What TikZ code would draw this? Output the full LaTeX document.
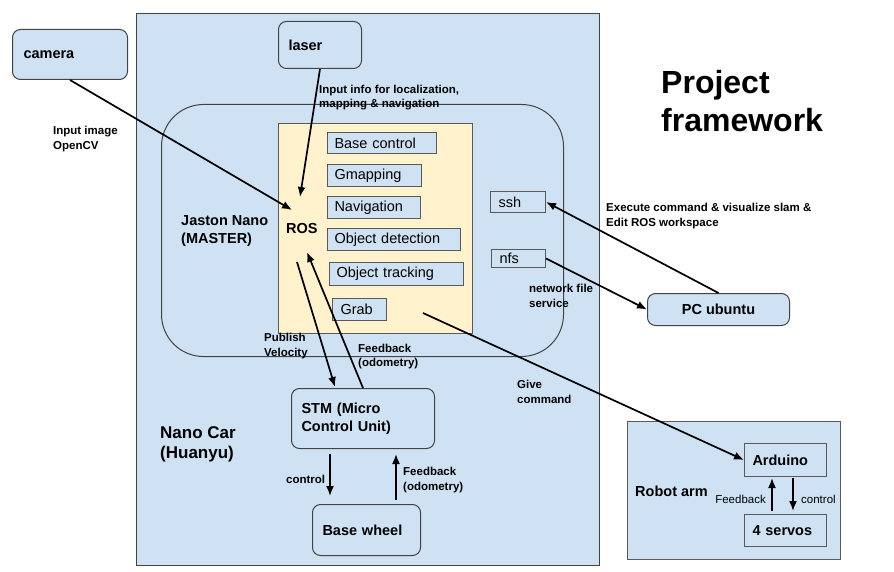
\documentclass[tikz,border=0pt]{standalone}
\usepackage{fontspec}
\setmainfont{Liberation Sans}
\usetikzlibrary{arrows.meta}
\definecolor{lb}{HTML}{CFE2F3}
\definecolor{ly}{HTML}{FFF2CC}
\definecolor{bgray}{HTML}{595959}
\definecolor{dgray}{HTML}{434343}
\begin{document}
\begin{tikzpicture}[x=1pt,y=-1pt,
  rbox/.style={draw=dgray, fill=lb, rounded corners=8pt, line width=1pt, inner ysep=0pt, anchor=north west, align=left, font=\fontsize{14.5}{18}\selectfont\bfseries},
  sbox/.style={draw=bgray, fill=lb, line width=1pt, inner ysep=0pt, anchor=north west, align=left, font=\fontsize{14.5}{18}\selectfont},
  lbl/.style={inner sep=0pt, anchor=west, align=left, font=\fontsize{11.5}{14.5}\selectfont\bfseries},
  big/.style={inner sep=0pt, anchor=west, align=left, font=\fontsize{14.5}{18}\selectfont\bfseries},
  arr/.style={line width=1.7pt, -{Latex[length=10pt,width=8pt]}}
]
\useasboundingbox (0,0) rectangle (894,572);
% Nano car
\node[draw=dgray, fill=lb, line width=1pt, anchor=north west, minimum width=463pt, minimum height=552pt, inner sep=0pt] (nanocar) at (136,13) {};
% camera
\node[rbox, minimum height=50pt, inner xsep=11pt, text width=93pt] (camera) at (12,29) {camera};
% laser
\node[rbox, minimum height=47pt, inner xsep=10pt, text width=63pt] (laser) at (278,21) {laser};
% Jaston Nano
\node[draw=dgray, line width=1pt, rounded corners=42pt, anchor=north west, minimum width=402pt, minimum height=252pt, inner sep=0pt] (jaston) at (161,104) {};
% ROS area
\node[draw=bgray, fill=ly, line width=1pt, anchor=north west, minimum width=194pt, minimum height=210pt, inner sep=0pt] (ros) at (278,123) {};
\node[sbox, minimum height=21pt, inner xsep=7pt, text width=95pt] (basecontrol) at (327,132) {Base control};
\node[sbox, minimum height=22pt, inner xsep=7pt, text width=80pt] (gmapping) at (327,164) {Gmapping};
\node[sbox, minimum height=22pt, inner xsep=7pt, text width=79pt] (navigation) at (327,196) {Navigation};
\node[sbox, minimum height=22pt, inner xsep=7pt, text width=119pt] (objdet) at (327,228) {Object detection};
\node[sbox, minimum height=23pt, inner xsep=7pt, text width=120pt] (objtrack) at (329,262) {Object tracking};
\node[sbox, minimum height=22pt, inner xsep=8pt, text width=38pt] (grab) at (332,298) {Grab};
\node[big] (rosT) at (286,229) {ROS};
\node[big] (jastonT) at (181,231) {Jaston Nano\\(MASTER)};
% ssh nfs
\node[sbox, minimum height=21pt, inner xsep=8pt, text width=39pt] (ssh) at (490,191) {ssh};
\node[sbox, minimum height=18pt, inner xsep=8pt, text width=38pt] (nfs) at (491,249) {nfs};
% PC
\node[rbox, minimum height=32pt, minimum width=142pt, align=center] (pc) at (647,293) {PC ubuntu};
% title
\node[inner sep=0pt, anchor=west, align=left, font=\fontsize{32}{38}\selectfont\bfseries] (title) at (661,101) {Project\\framework};
% STM
\node[rbox, minimum height=60pt, inner xsep=10pt, text width=123pt] (stm) at (291,388) {STM (Micro\\Control Unit)};
% Base wheel
\node[rbox, minimum height=51pt, inner xsep=10pt, text width=88pt] (wheel) at (312,504) {Base wheel};
\node[inner sep=0pt, anchor=west, align=left, font=\fontsize{17}{20}\selectfont\bfseries] (nanoT) at (160,444) {Nano Car\\(Huanyu)};
% Robot arm
\node[draw=bgray, fill=lb, line width=1pt, anchor=north west, minimum width=213pt, minimum height=138pt, inner sep=0pt] (robotarm) at (627,421) {};
\node[big] (robotT) at (635,491) {Robot arm};
\node[sbox, font=\fontsize{14.5}{18}\selectfont\bfseries, minimum height=33pt, inner xsep=8pt, text width=66pt] (arduino) at (744,443) {Arduino};
\node[sbox, font=\fontsize{14.5}{18}\selectfont\bfseries, minimum height=32pt, inner xsep=8pt, text width=66pt] (servos) at (744,514) {4 servos};
% labels
\node[lbl] (l1) at (319,97.5) {Input info for localization,\\mapping \& navigation};
\node[lbl] (l2) at (53,139) {Input image\\OpenCV};
\node[lbl] (l3) at (606,216) {Execute command \& visualize slam \&\\Edit ROS workspace};
\node[lbl] (l4) at (529,296) {network file\\service};
\node[lbl] (l5) at (264,346) {Publish\\Velocity};
\node[lbl] (l6) at (358,356.5) {Feedback\\(odometry)};
\node[lbl] (l7) at (517,392) {Give\\command};
\node[lbl] (l8) at (286,479) {control};
\node[lbl] (l9) at (403,480) {Feedback\\(odometry)};
\node[lbl, anchor=east, font=\fontsize{11.5}{14}\selectfont] (l10) at (766,499) {Feedback};
\node[lbl, font=\fontsize{11.5}{14}\selectfont] (l11) at (801,499) {control};
% coordinates
\coordinate (camEnd) at (292,210);
\coordinate (lasEnd) at (300,197);
\coordinate (pubStart) at (297,262);
\coordinate (pubEnd) at (335,387);
\coordinate (fbEnd) at (307,252);
\coordinate (grabStart) at (423,313);
\coordinate (cA) at (330,454);
\coordinate (cB) at (330,496);
\coordinate (fA) at (396,500);
\coordinate (fB) at (396,454);
\coordinate (aA) at (772,511);
\coordinate (aB) at (772,478);
\coordinate (sA) at (793,478);
\coordinate (sB) at (793,511);
% arrows
\draw[arr] (camera.south) -- (camEnd);
\draw[arr] (laser.south) -- (lasEnd);
\draw[arr] (pubStart) -- (pubEnd);
\draw[arr] (stm.north) -- (fbEnd);
\draw[arr] (grabStart) -- (arduino.west);
\draw[arr] (pc.north) -- (ssh.east);
\draw[arr] (nfs.east) -- (pc.west);
\draw[arr] (cA) -- (cB);
\draw[arr] (fA) -- (fB);
\draw[arr] (aA) -- (aB);
\draw[arr] (sA) -- (sB);
\end{tikzpicture}
\end{document}
